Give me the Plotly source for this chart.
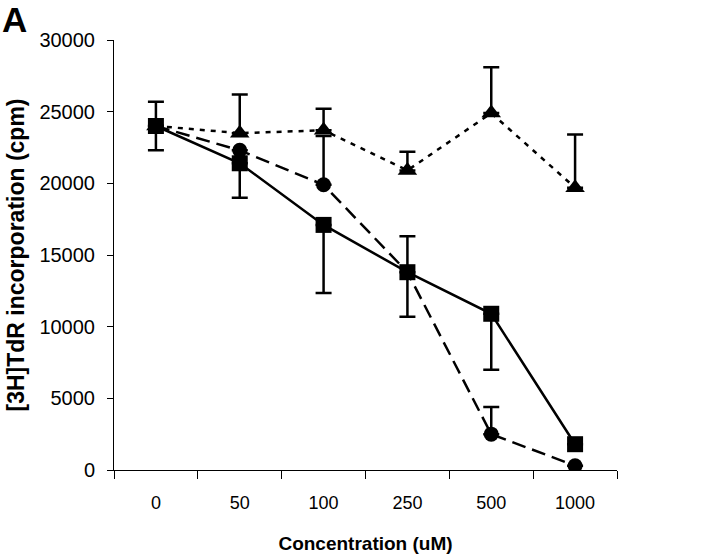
import plotly.graph_objects as go

categories = ["0", "50", "100", "250", "500", "1000"]

tri_vals = [24000, 23500, 23700, 20900, 24900, 19700]
tri_err_plus = [1700, 2700, 1500, 1300, 3200, 3700]
tri_err_minus = [1700, 0, 0, 0, 0, 0]

circ_vals = [24000, 22300, 19900, 13800, 2500, 300]
circ_err_plus = [0, 0, 3400, 0, 1900, 0]
circ_err_minus = [0, 0, 0, 0, 0, 0]

sq_vals = [24000, 21400, 17100, 13800, 10900, 1800]
sq_err_plus = [0, 0, 0, 2500, 0, 0]
sq_err_minus = [0, 2400, 4750, 3100, 3900, 0]

y_ticks = [0, 5000, 10000, 15000, 20000, 25000, 30000]

fig = go.Figure()

def add(vals, ep, em, dash, symbol, size):
    fig.add_trace(go.Scatter(
        x=categories, y=vals, mode="lines+markers",
        line=dict(color="black", width=2.5, dash=dash),
        marker=dict(symbol=symbol, size=size, color="black"),
        error_y=dict(type="data", symmetric=False, array=ep, arrayminus=em,
                     color="black", thickness=2.5, width=8),
        showlegend=False,
    ))

add(sq_vals, sq_err_plus, sq_err_minus, "solid", "square", 16)
add(circ_vals, circ_err_plus, circ_err_minus, "14px,7px", "circle", 15)
add(tri_vals, tri_err_plus, tri_err_minus, "5px,6px", "triangle-up", 17)

font = "Liberation Sans, Arial, sans-serif"

fig.update_layout(
    width=720, height=560,
    margin=dict(l=114, r=103, t=40, b=90),
    plot_bgcolor="white", paper_bgcolor="white",
    font=dict(family=font, size=15, color="black"),
    xaxis=dict(
        type="category", categoryorder="array", categoryarray=categories,
        range=[-0.5, 5.5], showline=True, linecolor="black", linewidth=1,
        ticks="outside", tickson="boundaries", ticklen=8, tickcolor="black",
        ticklabelstandoff=16, automargin=False,
        showgrid=False, zeroline=False,
        title=dict(text="<b>Concentration (uM)</b>", font=dict(size=19), standoff=25),
        tickfont=dict(size=18),
    ),
    yaxis=dict(
        range=[0, 30000], tickvals=y_ticks, tickformat="d", showline=True,
        linecolor="black", linewidth=1, ticks="outside", ticklen=6,
        tickcolor="black", ticklabelstandoff=8, automargin=False,
        showgrid=False, zeroline=False,
        title=dict(text="<b>[3H]TdR incorporation (cpm)</b>", font=dict(size=23), standoff=8),
        tickfont=dict(size=20),
    ),
    annotations=[dict(text="<b>A</b>", x=0, y=1, xref="paper", yref="paper",
                      xshift=-114, yshift=42, xanchor="left", yanchor="top",
                      showarrow=False, font=dict(size=35, family=font))],
)

fig.write_html("out.html", config={"displayModeBar": False},
               post_script="document.body.style.margin='0';")
